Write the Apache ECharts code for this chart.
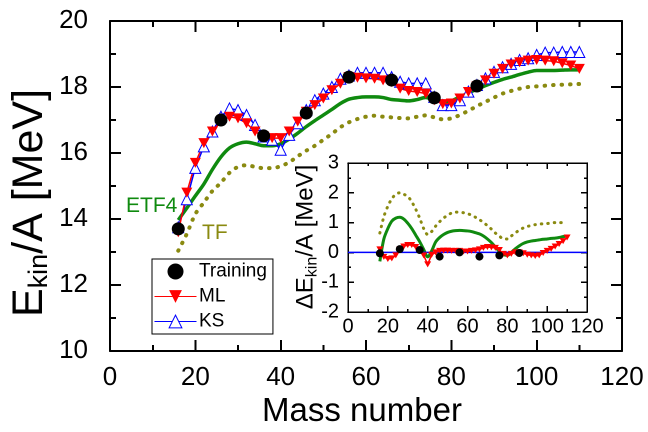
<!DOCTYPE html>
<html>
<head>
<meta charset="utf-8">
<script src="https://cdn.jsdelivr.net/npm/echarts@6/dist/echarts.min.js"></script>
<style>
html,body{margin:0;padding:0;background:#fff;overflow:hidden}
#chart{width:1296px;height:864px;position:absolute;left:0;top:0;transform:scale(0.5);transform-origin:0 0;}
#ov{position:absolute;left:0;top:0;font:9px monospace;color:transparent;}
</style>
</head>
<body>
<div id="chart"></div>
<div id="ov">&nbsp;</div>
<script>
// ---- data ----
const massNumbers = [16,18,20,22,24,26,28,30,32,34,36,38,40,42,44,46,48,50,52,54,56,58,60,62,64,66,68,70,72,74,76,78,80,82,84,86,88,90,92,94,96,98,100,102,104,106,108,110];
const ksValues = [13.75,14.6,15.55,16.2,16.65,17.1,17.35,17.3,17.15,16.85,16.5,16.4,16.1,16.55,16.9,17.3,17.6,17.8,18.0,18.25,18.35,18.43,18.43,18.43,18.43,18.3,18.16,18.11,18.11,18.11,17.7,17.45,17.45,17.6,17.86,18.06,18.26,18.46,18.6,18.7,18.82,18.87,18.97,19.04,19.04,19.06,19.06,19.06];
const mlValues = [13.6,14.8,15.7,16.3,16.65,16.95,17.1,17.05,16.9,16.65,16.5,16.45,16.45,16.65,16.95,17.25,17.45,17.65,17.9,18.1,18.3,18.28,18.26,18.25,18.2,18.15,17.95,17.88,17.85,17.8,17.6,17.48,17.5,17.65,17.85,18.02,18.2,18.4,18.55,18.68,18.75,18.8,18.82,18.8,18.78,18.72,18.65,18.55];
const etf4Values = [13.97,14.33,14.7,15.06,15.5,15.88,16.15,16.28,16.33,16.28,16.22,16.22,16.28,16.42,16.6,16.8,16.98,17.15,17.32,17.5,17.63,17.68,17.7,17.7,17.68,17.62,17.6,17.58,17.62,17.68,17.6,17.55,17.58,17.7,17.82,17.93,18.04,18.14,18.23,18.3,18.38,18.45,18.5,18.5,18.5,18.51,18.52,18.52];
const tfValues = [13.04,13.55,14.15,14.5,14.85,15.1,15.4,15.58,15.63,15.58,15.54,15.54,15.6,15.72,15.9,16.07,16.22,16.4,16.58,16.78,16.93,17.03,17.1,17.13,17.1,17.08,17.06,17.05,17.1,17.14,17.08,17.02,17.05,17.15,17.28,17.42,17.55,17.68,17.8,17.88,17.95,18.0,18.02,18.04,18.06,18.07,18.08,18.09];
const trainingMass = [16,26,36,46,56,66,76,86];
const trainingValues = [13.7,17.0,16.52,17.21,18.3,18.21,17.67,18.03];

// inset: Delta E_kin/A
const dTF = [0.65,1.2,1.55,1.8,1.95,2.0,1.95,1.88,1.7,1.45,1.15,0.8,0.6,0.7,0.88,1.03,1.15,1.25,1.32,1.35,1.35,1.33,1.3,1.25,1.18,1.1,1.0,0.9,0.78,0.65,0.55,0.45,0.45,0.55,0.65,0.75,0.82,0.87,0.9,0.93,0.95,0.96,0.97,0.98,1.0,1.0,1.0,0.97];
const dETF4 = [-0.3,0.45,0.8,1.05,1.15,1.18,1.12,0.98,0.8,0.58,0.36,0.1,-0.15,0.05,0.35,0.5,0.6,0.67,0.71,0.73,0.74,0.73,0.72,0.7,0.66,0.62,0.55,0.45,0.33,0.18,0.03,-0.07,-0.1,0.0,0.12,0.22,0.3,0.35,0.38,0.4,0.42,0.44,0.45,0.47,0.48,0.5,0.53,0.55];
const dML = [0.1,-0.15,-0.22,-0.2,-0.1,0.1,0.2,0.25,0.25,0.18,0.05,-0.1,-0.4,-0.08,0.0,0.05,0.06,0.06,0.05,0.05,0.05,0.03,0.03,0.05,0.07,0.1,0.15,0.18,0.17,0.15,0.08,-0.05,-0.1,-0.05,0.0,0.0,-0.03,-0.08,-0.1,-0.12,-0.1,-0.02,0.05,0.12,0.2,0.28,0.38,0.5];
const dTraining = [-0.03,0.11,0.08,-0.14,0.0,-0.14,-0.1,-0.02];
const ksRefMass = [0,120];
const ksRefValues = [0,0];

// ---- helpers ----
const S = 2; // drawn at 2x, shown at 0.5 scale
const p = v => v * S;
const zip = (xs, ys) => xs.map((x, i) => [x, ys[i]]);
const FONT = 'Liberation Sans, Arial, sans-serif';
const downTri = 'path://M0,0L10,0L5,9Z';
const OLIVE = '#8a8a10', GREEN = '#0f8a0f', RED = '#ff0000', BLUE = '#0000ff';

function makeAxis(min, max, interval, st, extra) {
  return Object.assign({
    type: 'value', min: min, max: max, interval: interval,
    axisLine: {show: true, onZero: false, lineStyle: {color: '#000', width: p(st.lw)}},
    axisTick: {show: true, inside: true, length: p(st.tick), lineStyle: {color: '#000', width: p(st.lw)}},
    minorTick: {show: true, splitNumber: 2, length: p(st.minor), lineStyle: {color: '#000', width: p(st.lw)}},
    splitLine: {show: false},
    axisLabel: {show: false}
  }, extra);
}

const chart = echarts.init(document.getElementById('chart'));
const M = {lw: 2, tick: 11, minor: 6};
const I = {lw: 1.5, tick: 6, minor: 3};

const option = {
  animation: false,
  backgroundColor: '#fff',
  textStyle: {fontFamily: FONT},
  grid: [
    {left: p(110), top: p(21), width: p(512), height: p(330), show: false},
    {left: p(348), top: p(163), width: p(239), height: p(149), show: false}
  ],
  xAxis: [
    makeAxis(0, 120, 20, M, {gridIndex: 0, position: 'bottom',
      axisLabel: {show: true, margin: p(14), fontSize: p(26), color: '#000', fontFamily: FONT}}),
    makeAxis(0, 120, 20, M, {gridIndex: 0, position: 'top'}),
    makeAxis(0, 120, 20, I, {gridIndex: 1, position: 'bottom',
      axisLabel: {show: true, margin: p(5), fontSize: p(20), color: '#000', fontFamily: FONT}}),
    makeAxis(0, 120, 20, I, {gridIndex: 1, position: 'top'})
  ],
  yAxis: [
    makeAxis(10, 20, 2, M, {gridIndex: 0, position: 'left',
      axisLabel: {show: true, margin: p(22), fontSize: p(26), color: '#000', fontFamily: FONT}}),
    makeAxis(10, 20, 2, M, {gridIndex: 0, position: 'right'}),
    makeAxis(-2, 3, 1, I, {gridIndex: 1, position: 'left',
      axisLabel: {show: true, margin: p(9), fontSize: p(20), color: '#000', fontFamily: FONT}}),
    makeAxis(-2, 3, 1, I, {gridIndex: 1, position: 'right'})
  ],
  legend: {
    data: ['Training', 'ML', 'KS'],
    orient: 'vertical', left: p(152), top: p(259),
    itemWidth: p(42), itemHeight: p(16), itemGap: p(6),
    padding: [p(3), p(6), p(3), p(2)],
    borderColor: '#000', borderWidth: p(1), backgroundColor: '#fff',
    textStyle: {fontSize: p(19), color: '#000', fontFamily: FONT},
    selectedMode: false
  },
  series: [
    {name: 'TF', type: 'line', xAxisIndex: 0, yAxisIndex: 0, data: zip(massNumbers, tfValues),
      symbol: 'none', smooth: 0.3,
      lineStyle: {color: OLIVE, width: p(4), type: [p(0.5), p(8)], cap: 'round'}},
    {name: 'ETF4', type: 'line', xAxisIndex: 0, yAxisIndex: 0, data: zip(massNumbers, etf4Values),
      symbol: 'none', smooth: 0.3,
      lineStyle: {color: GREEN, width: p(3.5)}},
    {name: 'KS', type: 'line', xAxisIndex: 0, yAxisIndex: 0, data: zip(massNumbers, ksValues),
      symbol: 'emptyTriangle', symbolSize: p(11),
      lineStyle: {color: BLUE, width: p(1.5)},
      itemStyle: {color: BLUE, borderColor: BLUE, borderWidth: p(1.5)}},
    {name: 'ML', type: 'line', xAxisIndex: 0, yAxisIndex: 0, data: zip(massNumbers, mlValues),
      symbol: downTri, symbolSize: [p(11), p(10)],
      lineStyle: {color: RED, width: p(1.5)},
      itemStyle: {color: RED}},
    {name: 'Training', type: 'scatter', xAxisIndex: 0, yAxisIndex: 0, data: zip(trainingMass, trainingValues),
      symbol: 'circle', symbolSize: p(13), itemStyle: {color: '#000', opacity: 1}, z: 5},

    {name: 'dTF', type: 'line', xAxisIndex: 2, yAxisIndex: 2, data: zip(massNumbers, dTF),
      symbol: 'none', smooth: 0.3,
      lineStyle: {color: OLIVE, width: p(3), type: [p(0.5), p(6)], cap: 'round'}},
    {name: 'dETF4', type: 'line', xAxisIndex: 2, yAxisIndex: 2, data: zip(massNumbers, dETF4),
      symbol: 'none', smooth: 0.3,
      lineStyle: {color: GREEN, width: p(3)}},
    {name: 'dKS', type: 'line', xAxisIndex: 2, yAxisIndex: 2, data: zip(ksRefMass, ksRefValues),
      symbol: 'none', lineStyle: {color: BLUE, width: p(1.5)}},
    {name: 'dML', type: 'line', xAxisIndex: 2, yAxisIndex: 2, data: zip(massNumbers, dML),
      symbol: downTri, symbolSize: [p(7), p(6)],
      lineStyle: {color: RED, width: p(1.5)}, itemStyle: {color: RED}},
    {name: 'dTraining', type: 'scatter', xAxisIndex: 2, yAxisIndex: 2, data: zip(trainingMass, dTraining),
      symbol: 'circle', symbolSize: p(8), itemStyle: {color: '#000', opacity: 1}, z: 5}
  ],
  graphic: [
    {type: 'text', x: p(362), y: p(412), style: {text: 'Mass number', fontSize: p(33), fontFamily: FONT, fill: '#000', align: 'center', verticalAlign: 'middle'}},
    {type: 'text', x: p(30), y: p(203), rotation: Math.PI / 2,
      style: {text: '{a|E}{s|kin}{a|/A [MeV]}', align: 'center', verticalAlign: 'middle', fill: '#000',
        rich: {a: {fontSize: p(43), lineHeight: p(46), fontFamily: FONT, fill: '#000'},
               s: {fontSize: p(27), lineHeight: p(18), verticalAlign: 'bottom', fontFamily: FONT, fill: '#000'}}}},
    {type: 'text', x: p(306), y: p(237), rotation: Math.PI / 2,
      style: {text: '{a|ΔE}{s|kin}{a|/A [MeV]}', align: 'center', verticalAlign: 'middle', fill: '#000',
        rich: {a: {fontSize: p(24), lineHeight: p(28), fontFamily: FONT, fill: '#000'},
               s: {fontSize: p(16), lineHeight: p(10), verticalAlign: 'bottom', fontFamily: FONT, fill: '#000'}}}},
    {type: 'text', x: p(126), y: p(206), style: {text: 'ETF4', fontSize: p(21), fontFamily: FONT, fill: GREEN, align: 'left', verticalAlign: 'middle'}},
    {type: 'text', x: p(202), y: p(233), style: {text: 'TF', fontSize: p(21), fontFamily: FONT, fill: OLIVE, align: 'left', verticalAlign: 'middle'}}
  ]
};
chart.setOption(option);
</script>
</body>
</html>
